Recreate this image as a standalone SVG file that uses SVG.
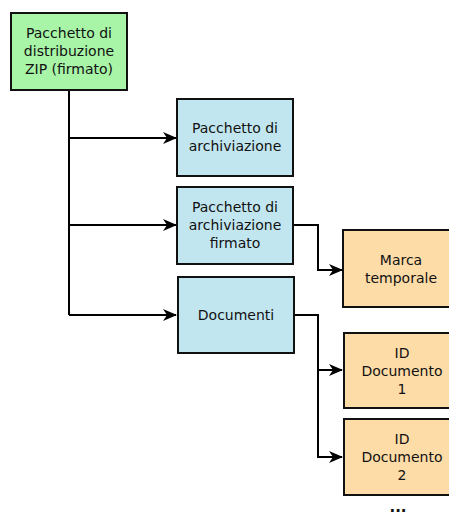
<svg xmlns="http://www.w3.org/2000/svg" width="449" height="515" viewBox="0 0 449 515">
<style>
.box{stroke:#111;stroke-width:2}
.g{fill:#a8f5a8}.b{fill:#c2e6f0}.o{fill:#fddca8}
text{font-family:"DejaVu Sans",sans-serif;font-size:14px;fill:#111;text-anchor:middle}
.c{fill:none;stroke:#000;stroke-width:2;marker-end:url(#ah)}
.l{fill:none;stroke:#000;stroke-width:2}
</style>
<defs>
<marker id="ah" markerWidth="14" markerHeight="12" refX="13" refY="6" orient="auto" markerUnits="userSpaceOnUse">
<path d="M0,0 L14,6 L0,12 L4,6 Z" fill="#000"/>
</marker>
</defs>
<g id="connectors">
<path class="l" d="M69,90 V315"/>
<path class="c" d="M69,138 H176"/>
<path class="c" d="M69,225 H176"/>
<path class="c" d="M69,315 H176"/>
<path class="c" d="M293,225 H318 V270 H342"/>
<path class="c" d="M294,315 H318 V370 H342"/>
<path class="c" d="M318,370 V457 H342"/>
</g>
<g id="zip"><rect class="box g" x="11" y="13" width="116" height="77"/>
<text x="69" y="38">Pacchetto di</text><text x="69" y="56">distribuzione</text><text x="69" y="74">ZIP (firmato)</text></g>
<g id="pda"><rect class="box b" x="177" y="99" width="116" height="77"/>
<text x="235" y="133">Pacchetto di</text><text x="235" y="151">archiviazione</text></g>
<g id="pdaf"><rect class="box b" x="177" y="187" width="116" height="77"/>
<text x="235" y="212">Pacchetto di</text><text x="235" y="230">archiviazione</text><text x="235" y="248">firmato</text></g>
<g id="doc"><rect class="box b" x="178" y="277" width="116" height="76"/>
<text x="236" y="320">Documenti</text></g>
<g id="marca"><rect class="box o" x="343" y="230" width="117" height="77"/>
<text x="401" y="265">Marca</text><text x="401" y="283">temporale</text></g>
<g id="id1"><rect class="box o" x="344" y="333" width="117" height="75"/>
<text x="402" y="358">ID</text><text x="402" y="376">Documento</text><text x="402" y="394">1</text></g>
<g id="id2"><rect class="box o" x="344" y="419" width="117" height="76"/>
<text x="402" y="444">ID</text><text x="402" y="462">Documento</text><text x="402" y="480">2</text></g>
<g id="more"><text x="398" y="512" style="font-weight:bold;font-size:15px">...</text></g>
</svg>
